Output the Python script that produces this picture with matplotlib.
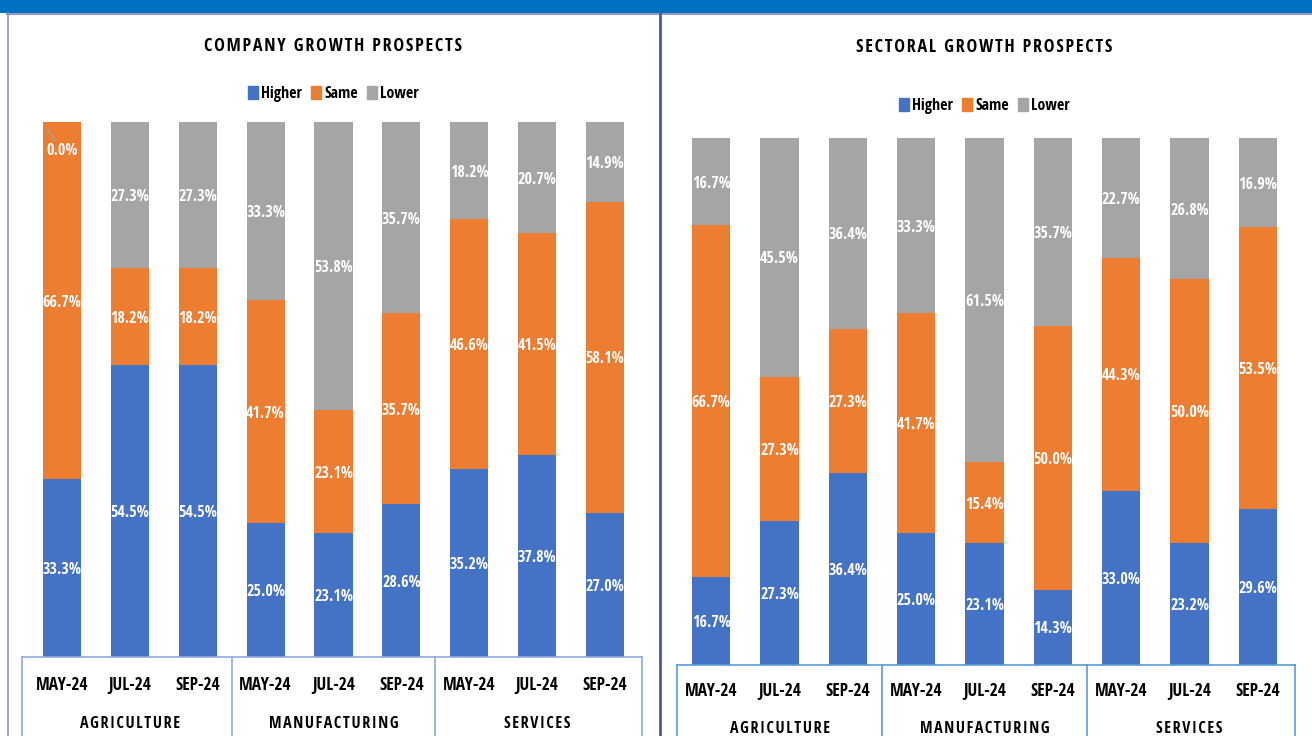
import matplotlib
matplotlib.use("Agg")
import matplotlib.pyplot as plt
from matplotlib import font_manager
from matplotlib.lines import Line2D
from matplotlib.patches import Rectangle, Patch
import matplotlib.transforms as mtransforms

# ---- data ----
months = ["MAY-24", "JUL-24", "SEP-24"]
sectors = ["AGRICULTURE", "MANUFACTURING", "SERVICES"]

company_higher = [33.3, 54.5, 54.5, 25.0, 23.1, 28.6, 35.2, 37.8, 27.0]
company_same = [66.7, 18.2, 18.2, 41.7, 23.1, 35.7, 46.6, 41.5, 58.1]
company_lower = [0.0, 27.3, 27.3, 33.3, 53.8, 35.7, 18.2, 20.7, 14.9]

sector_higher = [16.7, 27.3, 36.4, 25.0, 23.1, 14.3, 33.0, 23.2, 29.6]
sector_same = [66.7, 27.3, 27.3, 41.7, 15.4, 50.0, 44.3, 50.0, 53.5]
sector_lower = [16.7, 45.5, 36.4, 33.3, 61.5, 35.7, 22.7, 26.8, 16.9]

series_names = ["Higher", "Same", "Lower"]
colors = ["#4472C4", "#ED7D31", "#A5A5A5"]

# ---- font ----
names = {f.name for f in font_manager.fontManager.ttflist}
FONT = "DejaVu Sans"
for cand in ["Liberation Sans Narrow", "Open Sans Condensed", "Roboto Condensed", "Liberation Sans"]:
    if cand in names:
        FONT = cand
        break
plt.rcParams["font.family"] = [FONT, "DejaVu Sans"]
plt.rcParams["font.weight"] = "bold"


def spaced(s):
    # loose letter spacing like the original chart's headings
    return "\u200a".join(s)


W, H = 1312, 736
fig = plt.figure(figsize=(W / 100, H / 100), dpi=100)


def px_axes(left, top, right, bottom):
    return fig.add_axes([left / W, 1 - bottom / H, (right - left) / W, (bottom - top) / H])


def fig_line(x0, y0, x1, y1, color, lw):
    fig.add_artist(Line2D([x0 / W, x1 / W], [1 - y0 / H, 1 - y1 / H],
                          transform=fig.transFigure, color=color, lw=lw))


# page decorations
fig.add_artist(Rectangle((0, 1 - 12.5 / H), 1, 12.5 / H, transform=fig.transFigure,
                         color="#0070C0", lw=0))
fig_line(7, 13.5, W, 13.5, "#8E9CC4", 1.5)
fig_line(7.5, 13, 7.5, H, "#8497C8", 1.2)
fig_line(660, 13, 660, H, "#4A5A98", 2)


def draw_panel(box, title, title_y, legend_y, higher, same, lower,
               tick_off, group_off, box_color):
    left, top, right, bottom = box
    ax = px_axes(left, top, right, bottom)
    n = len(higher)
    x = list(range(n))
    ax.set_xlim(-0.5, n - 0.5)
    ax.set_ylim(0, 100)
    ax.axis("off")
    width = 0.56

    base = [0.0] * n
    handles = []
    for vals, name, col in zip([higher, same, lower], series_names, colors):
        ax.bar(x, vals, width, bottom=base, color=col, label=name, zorder=2)
        for i, v in enumerate(vals):
            if v > 0:
                ax.text(i, base[i] + v / 2 - 0.4, f"{v:.1f}%", ha="center", va="center",
                        color="white", fontsize=11.5, fontweight="bold", zorder=3)
            else:
                ax.annotate(f"{v:.1f}%", xy=(i - width / 2, base[i]),
                            xytext=(i, base[i] - 5.5), ha="center", va="center",
                            color="white", fontsize=11.5, fontweight="bold", zorder=3,
                            arrowprops=dict(arrowstyle="-", color="#A5A5A5", lw=1,
                                            shrinkA=0, shrinkB=7))
        base = [b + v for b, v in zip(base, vals)]
        handles.append(Patch(color=col, label=name))

    # category axis box
    hpx = bottom - top
    trans = mtransforms.blended_transform_factory(ax.transData, ax.transAxes)
    step = (right - left) / n
    pad = 6 / step if left < 600 else 0.0
    x0, x1 = -0.5 - pad, n - 0.5 + 0.04
    kw = dict(transform=trans, color=box_color, lw=1.2, clip_on=False)
    ax.add_line(Line2D([x0, x1], [0, 0], **kw))
    for xv in [x0, 2.5, 5.5, x1]:
        ax.add_line(Line2D([xv, xv], [0, -0.3], **kw))
    for i in range(n):
        ax.text(i, -tick_off / hpx, months[i % 3], transform=trans, ha="center",
                va="center", fontsize=12.5, fontweight="bold", color="black")
    for g, s in enumerate(sectors):
        ax.text(g * 3 + 1, -group_off / hpx, spaced(s), transform=trans, ha="center",
                va="center", fontsize=11.5, fontweight="bold", color="black")

    cx = (left + right) / 2
    fig.text(cx / W, 1 - title_y / H, spaced(title), ha="center", va="center",
             fontsize=13, fontweight="bold", color="black")
    fig.legend(handles=handles, loc="center", bbox_to_anchor=(cx / W, 1 - legend_y / H),
               ncol=3, frameon=False, handlelength=0.6, handleheight=0.9,
               handletextpad=0.2, columnspacing=0.6,
               prop=dict(family=[FONT, "DejaVu Sans"], weight="bold", size=11.5))
    return ax


draw_panel((28, 122, 639, 657), "COMPANY GROWTH PROSPECTS", 46, 94,
           company_higher, company_same, company_lower, 28, 67, "#8FAADC")
draw_panel((677, 138, 1292, 665), "SECTORAL GROWTH PROSPECTS", 47, 106,
           sector_higher, sector_same, sector_lower, 26, 64, "#5B9BD5")

fig.savefig("out.png", dpi=100)
